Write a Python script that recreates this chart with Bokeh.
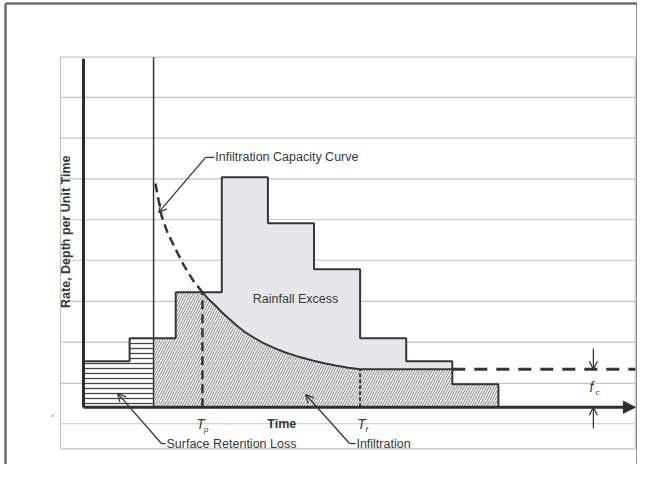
import math
from bokeh.plotting import figure
from bokeh.models import Range1d, Arrow, OpenHead, NormalHead, Label
from bokeh.embed import file_html
from bokeh.resources import INLINE

# ---------------- data ----------------
time_edges = [0, 1, 2, 3, 4, 5, 6, 7, 8, 9]          # time intervals
rain = [2, 3, 5, 10, 8, 6, 3, 2, 1]                  # rainfall rate per interval
t_retention = 1.52                                   # end of surface retention loss
t_p = 2.58                                           # time of ponding
t_f = 6.0                                            # time capacity reaches f_c
f_c = 1.65                                           # final infiltration capacity
cap_dashed_t = [1.56, 1.63, 1.69, 1.82, 2.00, 2.19, 2.39, 2.58]
cap_dashed_f = [9.73, 8.99, 8.34, 7.60, 6.86, 6.12, 5.47, 5.00]
cap_solid_t = [2.58, 2.72, 2.86, 3.00, 3.15, 3.33, 3.51, 3.70, 3.88, 4.13, 4.38, 4.67, 4.97, 5.22, 5.47, 5.74, 6.00]
cap_solid_f = [5.00, 4.68, 4.42, 4.13, 3.86, 3.54, 3.25, 3.02, 2.81, 2.58, 2.38, 2.19, 2.03, 1.91, 1.81, 1.72, 1.65]
ruled_levels = [15.22, 13.47, 11.70, 9.93, 8.15, 6.39, 4.60, 2.83, 1.04, -0.72]
ruled_left, ruled_right, ruled_bottom = -0.50, 11.97, -1.81

INK = "#363636"
TXT = "#383838"
FONT = "Liberation Sans"

X0, X1 = -1.8004, 12.017
Y0, Y1 = -2.491, 17.683

p = figure(width=637, height=464, x_range=Range1d(X0, X1), y_range=Range1d(Y0, Y1),
           output_backend="svg", toolbar_location=None, min_border=0,
           x_axis_type=None, y_axis_type=None)
p.grid.visible = False
p.outline_line_color = None
p.background_fill_color = "white"
p.border_fill_color = "white"

# outer page border (left, top, right)
BL, BT = -1.692, 17.55
p.multi_line(xs=[[BL, BL], [BL, X1], [X1, X1]], ys=[[Y0, BT], [BT, BT], [BT, Y0]],
             line_color="#6e6e6e", line_width=2.5)

# ruled background
p.multi_line(xs=[[ruled_left, ruled_right] for _ in ruled_levels] + [[ruled_left, ruled_right]],
             ys=[[v, v] for v in ruled_levels] + [[ruled_bottom, ruled_bottom]],
             line_color="#c4c4c4", line_width=1.2)
p.multi_line(xs=[[ruled_left, ruled_left], [ruled_right, ruled_right]],
             ys=[[ruled_bottom, ruled_levels[0]], [ruled_bottom, ruled_levels[0]]],
             line_color="#c4c4c4", line_width=1.2)

# hyetograph polygon (rainfall)
hx, hy = [time_edges[0]], [0]
for i, r in enumerate(rain):
    hx += [time_edges[i], time_edges[i + 1]]
    hy += [r, r]
hx.append(time_edges[-1]); hy.append(0)
p.patch(hx, hy, fill_color="#e7e7eb", line_color=None)

# infiltration region
ix, iy = [t_retention], [0]
for i, r in enumerate(rain):
    a, b = time_edges[i], time_edges[i + 1]
    if b <= t_retention or a >= t_p:
        continue
    a = max(a, t_retention)
    b = min(b, t_p)
    ix += [a, b]; iy += [r, r]
ix += cap_solid_t[1:]; iy += cap_solid_f[1:]
for i, r in enumerate(rain):
    a, b = time_edges[i], time_edges[i + 1]
    if a < t_f:
        continue
    h = min(r, f_c)
    ix += [a, b]; iy += [h, h]
ix.append(time_edges[-1]); iy.append(0)
p.patch(ix, iy, fill_color="white", line_color=None,
        hatch_pattern="right_diagonal_line", hatch_scale=5, hatch_weight=0.8, hatch_color="#5a5a5a")

# surface retention region
rx, ry = [0], [0]
for i, r in enumerate(rain):
    a, b = time_edges[i], time_edges[i + 1]
    if a >= t_retention:
        break
    rx += [a, min(b, t_retention)]; ry += [r, r]
rx.append(t_retention); ry.append(0)
p.patch(rx, ry, fill_color="white", line_color=None,
        hatch_pattern="horizontal_line", hatch_scale=5, hatch_weight=1.3, hatch_color="#444444")

# rainfall outline
p.line(hx, hy, line_color=INK, line_width=2)

# infiltration capacity curve
p.line(cap_dashed_t, cap_dashed_f, line_color=INK, line_width=2.5, line_dash="9 5")
after_t = [e for e in time_edges if e > t_f and min(rain[time_edges.index(e) - 1], f_c) == f_c]
p.line(cap_solid_t + after_t, cap_solid_f + [f_c] * len(after_t), line_color=INK, line_width=2,
       line_join="round")
p.line([max(after_t), ruled_right], [f_c, f_c], line_color=INK, line_width=3, line_dash="13 9")

# T_p and T_f verticals
p.line([t_p, t_p], [0, rain[2]], line_color=INK, line_width=2.5, line_dash="9 5")
p.line([t_f, t_f], [0, f_c], line_color=INK, line_width=2, line_dash="4 2")

# axes
p.line([t_retention, t_retention], [0, ruled_levels[0]], line_color=INK, line_width=1.5)
p.line([0, 0], [0, 15.15], line_color="#2e2e2e", line_width=3)
p.add_layout(Arrow(end=NormalHead(size=12, fill_color="#2e2e2e", line_color="#2e2e2e"),
                   x_start=0, y_start=0, x_end=11.97, y_end=0,
                   line_color="#2e2e2e", line_width=3))

# f_c dimension arrows
p.add_layout(Arrow(end=OpenHead(size=8, line_color=INK, line_width=1.3),
                   x_start=11.06, y_start=2.55, x_end=11.06, y_end=f_c,
                   line_color=INK, line_width=1.3))
p.add_layout(Arrow(end=OpenHead(size=8, line_color=INK, line_width=1.3),
                   x_start=11.06, y_start=-0.93, x_end=11.06, y_end=0,
                   line_color=INK, line_width=1.3))

# leader lines
def leader(tip, bend, stub_end):
    p.line([bend[0], stub_end], [bend[1], bend[1]], line_color=INK, line_width=1.3)
    p.add_layout(Arrow(end=OpenHead(size=8, line_color=INK, line_width=1.3),
                       x_start=bend[0], y_start=bend[1], x_end=tip[0], y_end=tip[1],
                       line_color=INK, line_width=1.3))

leader((1.63, 8.47), (2.65, 10.86), 2.84)
leader((0.74, 0.60), (1.69, -1.58), 1.78)
leader((4.82, 0.55), (5.77, -1.58), 5.90)

def label(x, y, text, size="12.5px", style="normal", align="left", angle=0.0):
    p.add_layout(Label(x=x, y=y, text=text, text_font=FONT, text_font_size=size,
                       text_font_style=style, text_color=TXT, text_align=align,
                       text_baseline="middle", angle=angle))

label(2.86, 10.86, "Infiltration Capacity Curve")
label(4.60, 4.70, "Rainfall Excess", align="center")
label(1.80, -1.58, "Surface Retention Loss")
label(5.92, -1.58, "Infiltration")
label(4.30, -0.73, "Time", style="bold", align="center")
label(-0.39, 7.63, "Rate, Depth per Unit Time", size="12.5px", style="bold", align="center",
      angle=math.pi / 2)
label(2.54, -0.72, "T", size="14px", style="italic", align="center")
label(2.66, -0.95, "p", size="8px", style="italic", align="center")
label(6.03, -0.72, "T", size="14px", style="italic", align="center")
label(6.14, -0.95, "f", size="8px", style="italic", align="center")
label(11.02, 0.90, "f", size="14px", style="italic", align="center")
label(11.15, 0.66, "c", size="8px", style="italic", align="center")
label(-0.67, -0.49, "'", size="9px", align="center")

open("out.html", "w").write(file_html(p, INLINE))
